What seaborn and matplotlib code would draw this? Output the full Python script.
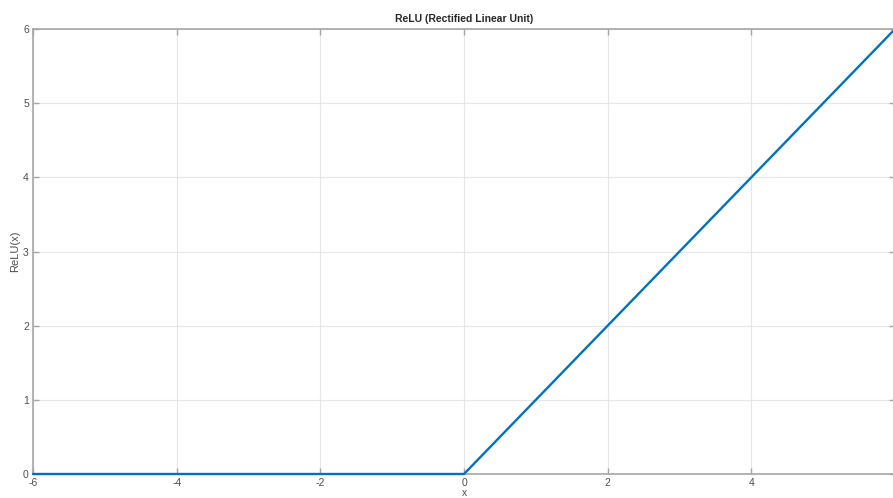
import numpy as np
import pandas as pd
import seaborn as sns
import matplotlib.pyplot as plt

# ReLU breakpoints
x_vals = [-6, 0, 6]
relu_vals = [0, 0, 6]
x_ticks = [-6, -4, -2, 0, 2, 4]
y_ticks = [0, 1, 2, 3, 4, 5, 6]

df = pd.DataFrame({'x': x_vals, 'ReLU(x)': relu_vals})

sns.set_style("whitegrid")
plt.rcParams['font.family'] = ['Liberation Sans', 'DejaVu Sans']
plt.rcParams['axes.unicode_minus'] = False

fig = plt.figure(figsize=(8.93, 4.98), dpi=100)
ax = fig.add_axes([33 / 893, 24 / 498, 862 / 893, 445 / 498])

sns.lineplot(data=df, x='x', y='ReLU(x)', color='#0072BD', linewidth=1.7,
             ax=ax, clip_on=False, zorder=5)

ax.set_xlim(-6, 6)
ax.set_ylim(0, 6)
ax.set_xticks(x_ticks)
ax.set_yticks(y_ticks)
ax.grid(True, color='#e6e6e6', linewidth=0.8)
for s in ax.spines.values():
    s.set_color('#a6a6a6')
    s.set_linewidth(1.2)
ax.tick_params(direction='in', length=4, width=1, color='#a6a6a6',
               labelsize=7.5, labelcolor='#4d4d4d', top=True, right=True,
               bottom=True, left=True, pad=3)
ax.set_xlabel('x', fontsize=7.5, color='#4d4d4d', labelpad=0)
ax.set_ylabel('ReLU(x)', fontsize=8, color='#4d4d4d', labelpad=2)
ax.set_title('ReLU (Rectified Linear Unit)', fontsize=7.5, fontweight='bold', pad=5)

fig.savefig('out.png', dpi=100)
